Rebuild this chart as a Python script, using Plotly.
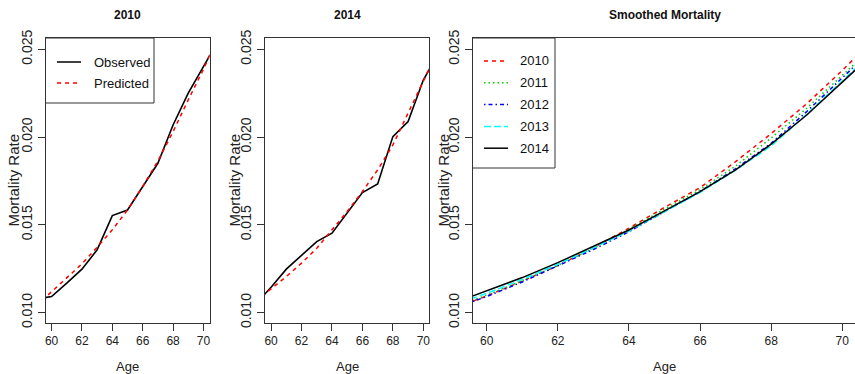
import plotly.graph_objects as go

W, H = 855, 374

ages = list(range(59, 72))

obs_2010 = [0.01077, 0.01092, 0.01168, 0.01248, 0.01358, 0.01553, 0.01585,
            0.01718, 0.01851, 0.02069, 0.02250, 0.02401, 0.02554]
pred_2010 = [0.01040, 0.01118, 0.01196, 0.01278, 0.01373, 0.01472, 0.01585,
             0.01718, 0.01864, 0.02031, 0.02212, 0.02386, 0.02580]

obs_2014 = [0.01050, 0.01145, 0.01248, 0.01324, 0.01405, 0.01453, 0.01570,
            0.01684, 0.01733, 0.02003, 0.02088, 0.02325, 0.02480]
pred_2014 = [0.01065, 0.01134, 0.01206, 0.01282, 0.01367, 0.01472, 0.01576,
             0.01690, 0.01813, 0.01955, 0.02136, 0.02316, 0.02500]

smooth_years = ["2010", "2011", "2012", "2013", "2014"]
smooth_2010 = [0.01020, 0.01095, 0.01180, 0.01268, 0.01370, 0.01481, 0.01600,
               0.01712, 0.01860, 0.02020, 0.02190, 0.02380, 0.02580]
smooth_2011 = [0.01025, 0.01100, 0.01182, 0.01270, 0.01365, 0.01475, 0.01590,
               0.01700, 0.01835, 0.01995, 0.02164, 0.02350, 0.02540]
smooth_2012 = [0.01020, 0.01092, 0.01175, 0.01266, 0.01360, 0.01461, 0.01575,
               0.01690, 0.01820, 0.01965, 0.02145, 0.02335, 0.02530]
smooth_2013 = [0.01040, 0.01110, 0.01190, 0.01275, 0.01370, 0.01465, 0.01575,
               0.01685, 0.01812, 0.01950, 0.02130, 0.02320, 0.02510]
smooth_2014 = [0.01050, 0.01124, 0.01200, 0.01285, 0.01380, 0.01471, 0.01580,
               0.01689, 0.01813, 0.01960, 0.02126, 0.02310, 0.02500]

x_ticks = [60, 62, 64, 66, 68, 70]
y_ticks = [0.010, 0.015, 0.020, 0.025]
y_tick_text = ["0.010", "0.015", "0.020", "0.025"]

FONT = "Liberation Sans, Arial, Helvetica, sans-serif"
AX = "#333333"

def px(x):
    return x / W

def py(y):
    return 1 - y / H

# plot box geometry (pixels)
top, bottom = 38, 323
panels = [(45.5, 209.5), (265, 429.4), (472.5, 855)]
x_ranges = [[59.6, 70.4], [59.6, 70.4], [59.6, 70.4 - 1.5 / 35.56]]
y_range = [0.009413, 0.025643]

fig = go.Figure()

# panel 1
fig.add_trace(go.Scatter(x=ages, y=obs_2010, mode="lines", xaxis="x", yaxis="y",
                         line=dict(color="black", width=1.6), showlegend=False))
fig.add_trace(go.Scatter(x=ages, y=pred_2010, mode="lines", xaxis="x", yaxis="y",
                         line=dict(color="#ff0000", width=1.5, dash="4px,4px"), showlegend=False))
# panel 2
fig.add_trace(go.Scatter(x=ages, y=obs_2014, mode="lines", xaxis="x2", yaxis="y2",
                         line=dict(color="black", width=1.6), showlegend=False))
fig.add_trace(go.Scatter(x=ages, y=pred_2014, mode="lines", xaxis="x2", yaxis="y2",
                         line=dict(color="#ff0000", width=1.5, dash="4px,4px"), showlegend=False))
# panel 3
smooth_series = [smooth_2010, smooth_2011, smooth_2012, smooth_2013, smooth_2014]
smooth_colors = ["#ff0000", "#00cd00", "#0000ff", "#00ffff", "#000000"]
smooth_dash = ["4px,4px", "1.5px,3px", "1.5px,3px,4px,3px", "7px,3px", "solid"]
for s, c, d in zip(smooth_series, smooth_colors, smooth_dash):
    fig.add_trace(go.Scatter(x=ages, y=s, mode="lines", xaxis="x3", yaxis="y3",
                             line=dict(color=c, width=1.5, dash=d), showlegend=False))

axis_common = dict(showline=True, mirror=True, linecolor=AX, linewidth=1,
                   ticks="outside", ticklen=7, tickcolor=AX, tickwidth=1,
                   showgrid=False, zeroline=False, automargin=False,
                   tickfont=dict(family=FONT, size=12, color="#222"))

layout = dict(width=W, height=H, margin=dict(l=0, r=0, t=0, b=0),
              plot_bgcolor="white", paper_bgcolor="white", showlegend=False)

for i, (l, r) in enumerate(panels):
    sfx = "" if i == 0 else str(i + 1)
    layout["xaxis" + sfx] = dict(axis_common, domain=[px(l), px(r)], range=x_ranges[i],
                                 tickvals=x_ticks, anchor="y" + sfx)
    layout["yaxis" + sfx] = dict(axis_common, domain=[py(bottom), py(top)], range=y_range,
                                 tickvals=y_ticks, ticktext=y_tick_text, tickangle=-90,
                                 anchor="x" + sfx,
                                 tickfont=dict(family=FONT, size=14, color="#222"))

fig.update_layout(**layout)

annotations = []
shapes = []

titles = ["2010", "2014", "Smoothed Mortality"]
ylab_x = [13, 234, 443]
for i, (l, r) in enumerate(panels):
    cx = (l + r) / 2 if i < 2 else (472.5 + 856.5) / 2
    annotations.append(dict(text="<b>%s</b>" % titles[i], x=px(cx), y=py(15),
                            xref="paper", yref="paper", showarrow=False,
                            font=dict(family=FONT, size=12, color="#111"),
                            xanchor="center", yanchor="middle"))
    annotations.append(dict(text="Age", x=px(cx), y=py(366), xref="paper", yref="paper",
                            showarrow=False, font=dict(family=FONT, size=13, color="#222"),
                            xanchor="center", yanchor="middle"))
    annotations.append(dict(text="Mortality Rate", x=px(ylab_x[i]), y=py((top + bottom) / 2),
                            xref="paper", yref="paper", showarrow=False, textangle=-90,
                            font=dict(family=FONT, size=15, color="#222"),
                            xanchor="center", yanchor="middle"))

# legend panel 1
shapes.append(dict(type="rect", xref="paper", yref="paper", x0=px(45.5), x1=px(154),
                   y0=py(103), y1=py(38), line=dict(color=AX, width=1), fillcolor="white",
                   layer="above"))
leg1 = [("Observed", "black", "solid", 62), ("Predicted", "#ff0000", "4px,4px", 83)]
for name, c, d, yy in leg1:
    shapes.append(dict(type="line", xref="paper", yref="paper", x0=px(57), x1=px(81),
                       y0=py(yy), y1=py(yy), line=dict(color=c, width=1.5, dash=d),
                       layer="above"))
    annotations.append(dict(text=name, x=px(92), y=py(yy), xref="paper", yref="paper",
                            showarrow=False, xanchor="left", yanchor="middle",
                            font=dict(family=FONT, size=13, color="#111")))

# legend panel 3
shapes.append(dict(type="rect", xref="paper", yref="paper", x0=px(472.5), x1=px(555),
                   y0=py(168), y1=py(38), line=dict(color=AX, width=1), fillcolor="white",
                   layer="above"))
for k, (name, c, d) in enumerate(zip(smooth_years, smooth_colors, smooth_dash)):
    yy = 61 + 21.8 * k
    shapes.append(dict(type="line", xref="paper", yref="paper", x0=px(484), x1=px(508),
                       y0=py(yy), y1=py(yy), line=dict(color=c, width=1.5, dash=d),
                       layer="above"))
    annotations.append(dict(text=name, x=px(518), y=py(yy), xref="paper", yref="paper",
                            showarrow=False, xanchor="left", yanchor="middle",
                            font=dict(family=FONT, size=13, color="#111")))

fig.update_layout(annotations=annotations, shapes=shapes)

fig.write_html("out.html",
               config={"displayModeBar": False, "staticPlot": True},
               post_script="document.body.style.margin='0';document.body.style.overflow='hidden';")
